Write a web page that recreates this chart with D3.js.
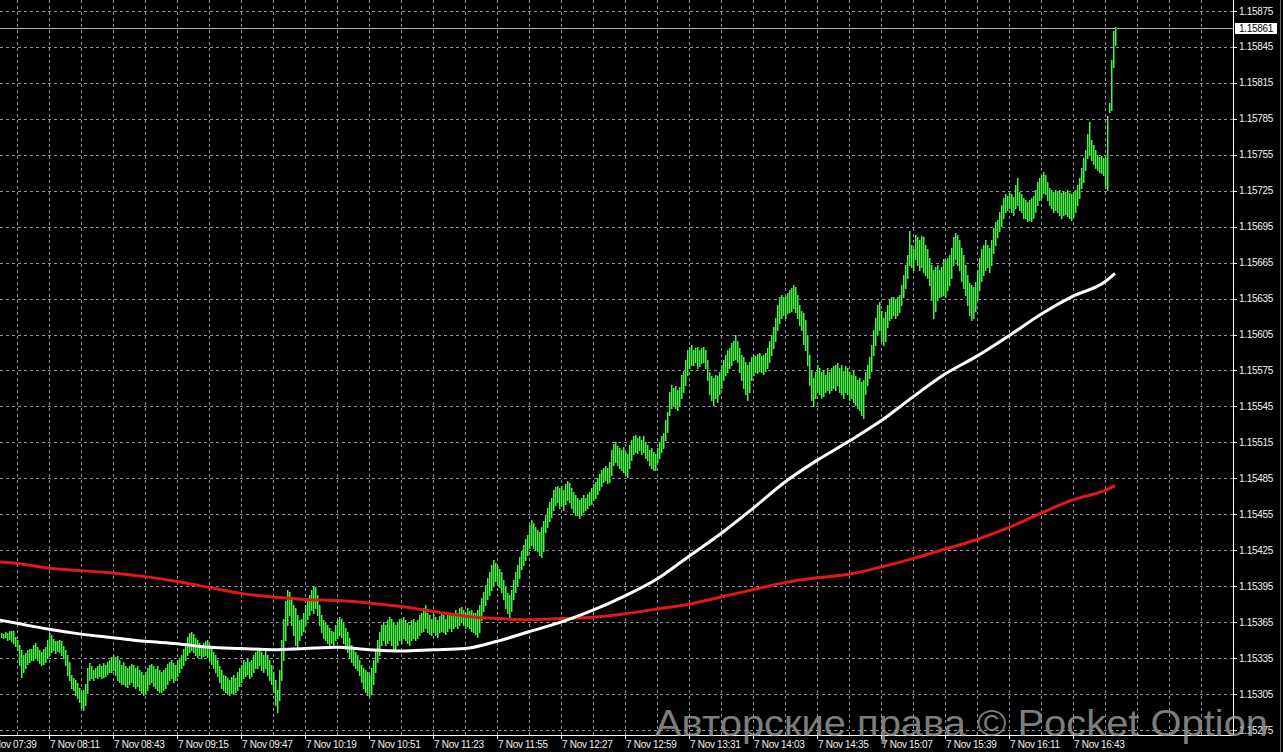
<!DOCTYPE html>
<html>
<head>
<meta charset="utf-8">
<script src="https://cdn.jsdelivr.net/npm/d3@7"></script>
<style>
  html, body { margin: 0; padding: 0; background: #000; }
  svg { display: block; }
  .axis-text { font-family: "Liberation Sans", Arial, sans-serif; font-size: 10px; fill: #f0f0f0; letter-spacing: -0.3px; }
</style>
</head>
<body>
<svg id="chart" width="1283" height="752"></svg>
<script>
// EURUSD M1, 7 Nov. bar values are points (1e-5) above PRICE_BASE
var PRICE_BASE = 1.15;
var DAY = "2025-11-07";
var firstBar = "07:47";

var barHigh = [
  356,355,357,356,358,358,358,353,350,346,342,338,339,342,343,343,
  346,348,344,342,340,343,344,350,356,354,351,349,349,350,349,345,
  342,338,332,321,318,317,314,310,307,308,313,327,331,328,325,327,
  328,330,328,331,329,332,333,336,338,336,337,333,329,332,328,327,
  328,330,329,327,328,325,323,321,323,327,329,330,328,326,328,325,
  323,325,327,330,332,333,331,329,333,335,338,343,348,353,356,357,
  355,352,350,348,346,348,349,350,346,343,340,338,333,328,325,321,
  320,318,317,319,321,318,323,327,329,333,332,335,332,333,338,340,
  342,343,340,338,342,338,333,329,323,317,308,325,350,368,383,392,
  390,385,379,377,371,367,368,373,379,385,388,392,394,394,388,379,
  371,367,365,363,360,358,357,363,367,369,368,365,360,357,352,346,
  343,340,338,333,329,327,325,323,321,327,333,342,350,357,363,365,
  363,367,369,368,365,363,365,368,367,369,367,364,363,367,368,365,
  367,371,373,377,379,373,371,368,372,369,367,370,373,371,368,371,
  373,371,373,375,373,377,378,375,373,377,374,375,373,373,375,379,
  385,390,396,402,407,413,417,414,412,409,407,400,394,389,388,392,
  400,407,413,419,424,429,434,438,446,450,448,444,442,440,444,449,
  454,460,465,469,475,478,479,477,479,475,480,483,481,477,474,471,
  469,467,469,471,469,472,474,477,480,482,485,489,492,494,495,494,
  499,509,514,515,512,510,509,511,507,505,513,517,520,521,519,520,
  517,520,515,513,509,510,507,505,510,515,520,523,534,540,557,563,
  560,562,559,561,571,575,584,592,595,596,592,594,595,592,594,595,
  592,584,574,570,569,571,570,574,580,584,588,592,594,598,600,605,
  600,594,588,586,582,580,582,586,588,587,589,590,587,588,590,594,
  600,605,611,619,630,636,638,636,637,640,642,644,646,645,638,630,
  625,623,617,605,588,575,569,574,580,577,574,575,571,577,574,577,
  579,580,581,577,580,575,579,577,574,571,575,570,567,569,565,567,
  574,580,586,596,609,619,630,632,625,619,624,630,634,636,636,634,
  636,638,646,655,663,671,691,680,676,688,686,684,687,686,680,676,
  669,663,659,661,663,659,661,668,667,669,671,677,686,690,688,684,
  677,671,663,655,648,646,645,649,659,669,676,680,684,680,677,684,
  694,699,701,707,713,719,722,721,723,722,720,730,736,724,722,719,
  717,716,717,719,721,726,732,736,738,741,738,732,727,726,724,726,
  724,726,723,725,724,726,723,722,724,726,730,736,744,752,759,772,
  782,767,763,759,755,753,754,752,753,787,798,834,858,862
];

var barLow = [
  353,352,353,350,351,349,348,345,342,329,319,323,327,330,332,333,
  333,335,333,331,329,330,332,335,338,340,342,339,341,340,338,335,
  329,321,317,310,308,304,302,298,293,292,296,306,317,318,317,319,
  318,320,318,319,320,322,323,323,325,321,317,315,313,313,312,311,
  313,315,312,310,312,308,306,304,305,308,313,315,312,310,308,307,
  307,308,310,313,317,318,315,317,320,323,327,329,333,338,340,342,
  340,338,336,338,335,337,338,336,333,330,327,323,320,315,310,308,
  307,305,304,306,305,307,308,312,315,318,320,322,318,320,323,327,
  327,329,325,323,327,321,317,313,307,296,290,300,317,333,350,363,
  371,363,354,346,343,350,354,358,363,368,371,375,373,377,371,363,
  357,352,350,348,346,348,346,350,352,354,353,348,343,340,335,332,
  329,327,325,321,315,310,307,304,303,305,313,323,332,338,346,350,
  346,348,350,346,343,342,346,350,348,352,350,348,346,350,352,350,
  352,354,357,358,360,357,355,354,357,354,353,357,358,357,355,358,
  360,358,360,362,360,363,365,363,360,362,360,358,357,355,353,357,
  367,374,379,384,388,392,396,399,396,394,390,384,377,373,369,374,
  384,390,396,402,409,413,417,421,427,429,427,425,424,421,419,424,
  440,444,449,453,459,463,465,460,463,459,464,467,465,460,457,454,
  454,452,454,457,459,460,463,464,467,469,472,475,479,482,484,481,
  482,488,496,499,496,494,492,490,488,486,494,500,505,507,506,509,
  505,507,502,500,496,494,492,492,499,502,507,510,517,524,538,544,
  546,544,542,546,552,557,563,571,577,580,580,582,577,579,581,582,
  577,567,555,550,546,552,549,555,560,567,571,574,577,580,584,585,
  582,574,567,560,555,550,557,567,571,574,573,575,574,572,575,577,
  582,588,594,600,609,615,619,621,619,623,624,625,627,624,619,613,
  609,597,592,580,563,550,545,552,557,555,552,554,557,559,556,559,
  560,559,563,557,555,552,557,555,550,552,549,546,544,542,538,535,
  555,563,569,575,588,596,605,609,600,596,600,611,617,619,621,619,
  621,624,630,636,644,652,663,661,659,668,663,659,661,657,655,652,
  646,634,619,625,634,636,637,638,636,642,646,652,663,668,663,659,
  650,644,638,630,621,617,619,625,634,642,650,655,659,661,657,663,
  673,680,686,691,696,702,707,709,711,707,705,711,713,709,707,702,
  702,700,701,700,702,707,713,717,719,723,722,717,713,711,707,709,
  707,705,702,705,706,704,702,701,703,707,713,719,727,732,742,752,
  755,751,747,744,742,741,740,738,727,726,791,792,828,847
];
var lastPrice = 1.15861;

// moving averages, read every 16 minutes
var maTimes = ["07:39","07:55","08:11","08:27","08:43","08:59","09:15","09:31","09:47","10:03",
  "10:19","10:35","10:51","11:07","11:23","11:39","11:55","12:11","12:27","12:43",
  "12:59","13:15","13:31","13:47","14:03","14:19","14:35","14:51","15:07","15:23",
  "15:39","15:55","16:11","16:27","16:43","16:59","17:04"];
var maFast = [369,364,359,355,352,349,347,344,343,342,343,344,342,341,342,343,349,357,365,375,
  387,401,420,439,460,482,500,516,533,553,572,587,604,622,637,649,656];
var maSlow = [416,414,410,408,406,403,399,394,389,386,384,383,381,378,374,370,368,367,368,369,
  372,376,380,386,392,398,402,405,411,418,426,434,444,456,467,475,479];

var timeLabels = ["07:39","08:11","08:43","09:15","09:47","10:19","10:51","11:23","11:55",
  "12:27","12:59","13:31","14:03","14:35","15:07","15:39","16:11","16:43"];
var priceMin = 1.15275, priceMax = 1.15875, priceStep = 0.0003;

var watermark = "Авторские права © Pocket Option";

var parseTime = function(hm){ return d3.timeParse("%Y-%m-%d %H:%M")(DAY + " " + hm); };
var toPrice = function(p){ return PRICE_BASE + p / 100000; };

var svg = d3.select("#chart");
var plotRight = 1233, plotBottom = 735;

var x = d3.scaleTime()
  .domain([parseTime("07:39"), parseTime("16:43")])
  .range([-15, 1073]);
var y = d3.scaleLinear()
  .domain([priceMin, priceMax])
  .range([730, 11]);

svg.append("rect").attr("width", 1283).attr("height", 752).attr("fill", "#000");

// grid
var grid = svg.append("g").attr("stroke", "#9494a0").attr("stroke-width", 1)
  .attr("stroke-dasharray", "3,3").attr("shape-rendering", "crispEdges");

var priceTicks = d3.range(0, Math.round((priceMax - priceMin) / priceStep) + 1)
  .map(function(i){ return +(priceMin + i * priceStep).toFixed(5); });

grid.selectAll(".hgrid").data(priceTicks).enter().append("line")
  .attr("x1", 0).attr("x2", plotRight)
  .attr("y1", function(d){ return Math.round(y(d)) + 0.5; })
  .attr("y2", function(d){ return Math.round(y(d)) + 0.5; });

var gridTimes = d3.range(0, 40).map(function(k){
  return d3.timeMinute.offset(parseTime("07:39"), k * 16);
}).filter(function(t){ return x(t) > 0 && x(t) < plotRight - 5; });

grid.selectAll(".vgrid").data(gridTimes).enter().append("line")
  .attr("y1", 0).attr("y2", plotBottom)
  .attr("x1", function(d){ return Math.round(x(d)) + 0.5; })
  .attr("x2", function(d){ return Math.round(x(d)) + 0.5; });

// current price line
svg.append("line")
  .attr("x1", 0).attr("x2", plotRight)
  .attr("y1", Math.round(y(lastPrice)) + 0.5).attr("y2", Math.round(y(lastPrice)) + 0.5)
  .attr("stroke", "#b0b0bc").attr("shape-rendering", "crispEdges");

// bars: one vertical high-low line per minute, with a dim green halo
var bars = barHigh.map(function(h, i){
  return {
    date: d3.timeMinute.offset(parseTime(firstBar), i),
    high: toPrice(h),
    low: toPrice(barLow[i])
  };
});

var barTop = function(d){ return Math.round(y(d.high)); };
var barHeight = function(d){ return Math.max(1, Math.round(y(d.low)) - Math.round(y(d.high)) + 1); };

var barLayer = svg.append("g").attr("shape-rendering", "crispEdges");
barLayer.selectAll(".halo").data(bars).enter().append("rect")
  .attr("x", function(d){ return Math.round(x(d.date)); })
  .attr("width", 2)
  .attr("y", barTop).attr("height", barHeight)
  .attr("fill", "#1c7a1c");
barLayer.selectAll(".bar").data(bars).enter().append("rect")
  .attr("x", function(d){ return Math.round(x(d.date)); })
  .attr("width", 1)
  .attr("y", barTop).attr("height", barHeight)
  .attr("fill", "#4cf04c");

// moving averages
var maLine = d3.line()
  .x(function(d){ return x(d.date); })
  .y(function(d){ return y(d.value); })
  .curve(d3.curveMonotoneX);

var maSeries = [
  { color: "#e01818", values: maSlow },
  { color: "#ffffff", values: maFast }
];

svg.append("g").selectAll("path").data(maSeries).enter().append("path")
  .attr("fill", "none")
  .attr("stroke", function(d){ return d.color; })
  .attr("stroke-width", 3)
  .attr("stroke-linejoin", "round")
  .attr("d", function(d){
    return maLine(d.values.map(function(v, i){
      return { date: parseTime(maTimes[i]), value: toPrice(v) };
    }));
  });

// frame
svg.append("line").attr("x1", plotRight + 0.5).attr("x2", plotRight + 0.5)
  .attr("y1", 0).attr("y2", plotBottom + 0.5).attr("stroke", "#fff");
svg.append("line").attr("x1", 0).attr("x2", plotRight + 0.5)
  .attr("y1", plotBottom + 0.5).attr("y2", plotBottom + 0.5).attr("stroke", "#fff");
svg.append("line").attr("x1", 1280.5).attr("x2", 1280.5)
  .attr("y1", 0).attr("y2", 752).attr("stroke", "#6a6a6a");

// right price axis
var yAxis = svg.append("g");
yAxis.selectAll("line").data(priceTicks).enter().append("line")
  .attr("x1", plotRight).attr("x2", plotRight + 4)
  .attr("y1", function(d){ return Math.round(y(d)) + 0.5; })
  .attr("y2", function(d){ return Math.round(y(d)) + 0.5; })
  .attr("stroke", "#fff");
yAxis.selectAll("text").data(priceTicks).enter().append("text")
  .attr("class", "axis-text")
  .attr("x", plotRight + 6)
  .attr("y", function(d){ return y(d) + 3.5; })
  .text(function(d){ return d.toFixed(5); });

var tag = svg.append("g");
tag.append("rect")
  .attr("x", plotRight + 2).attr("y", Math.round(y(lastPrice)) - 5)
  .attr("width", 42).attr("height", 11).attr("fill", "#fff");
tag.append("text")
  .attr("class", "axis-text").style("fill", "#000")
  .attr("x", plotRight + 6).attr("y", y(lastPrice) + 4)
  .text(lastPrice.toFixed(5));

// bottom time axis
var xFormat = d3.timeFormat("%-d %b %H:%M");
var xAxis = svg.append("g");
xAxis.selectAll("line").data(timeLabels).enter().append("line")
  .attr("x1", function(d){ return Math.round(x(parseTime(d))) + 0.5; })
  .attr("x2", function(d){ return Math.round(x(parseTime(d))) + 0.5; })
  .attr("y1", plotBottom).attr("y2", plotBottom + 4)
  .attr("stroke", "#fff");
xAxis.selectAll("text").data(timeLabels).enter().append("text")
  .attr("class", "axis-text")
  .attr("x", function(d){ return x(parseTime(d)) + 1; })
  .attr("y", 748)
  .text(function(d){ return xFormat(parseTime(d)); });

// watermark
svg.append("text")
  .attr("x", 655).attr("y", 736)
  .attr("textLength", 613).attr("lengthAdjust", "spacingAndGlyphs")
  .style("font-family", "Liberation Sans, Arial, sans-serif")
  .style("font-size", "36px")
  .attr("fill", "#a0a0a0").attr("fill-opacity", 0.78)
  .text(watermark);
</script>
</body>
</html>
